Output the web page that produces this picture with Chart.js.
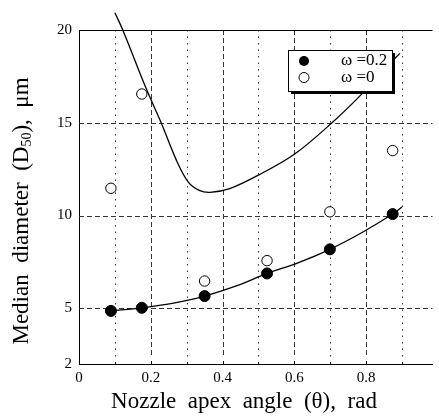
<!DOCTYPE html>
<html>
<head>
<meta charset="utf-8">
<script src="https://cdn.jsdelivr.net/npm/chart.js@4/dist/chart.umd.min.js"></script>
<style>
html,body{margin:0;padding:0;background:#fff;}
#wrap{width:439px;height:419px;}
</style>
</head>
<body>
<div id="wrap"><canvas id="c" width="439" height="419"></canvas></div>
<script>
// ---- data ----
const angles = [0.089, 0.175, 0.35, 0.524, 0.699, 0.874];
const d50Omega02 = [4.86, 5.03, 5.66, 6.88, 8.18, 10.08];
const d50Omega0 = [11.47, 16.55, 6.47, 7.57, 10.2, 13.5];
const fitLowX = [0.089, 0.175, 0.26, 0.35, 0.44, 0.524, 0.61, 0.699, 0.79, 0.874, 0.9];
const fitLowY = [4.86, 5.03, 5.27, 5.66, 6.22, 6.88, 7.45, 8.18, 9.1, 10.08, 10.46];
const fitHighX = [0.100, 0.122, 0.189, 0.229, 0.271, 0.304, 0.335, 0.365, 0.42, 0.50, 0.60, 0.705, 0.787, 0.867, 0.894];
const fitHighY = [20.93, 20.0, 16.76, 15.0, 13.0, 11.82, 11.36, 11.25, 11.45, 12.18, 13.3, 15.0, 16.53, 18.2, 18.74];
const xTicks = [0, 0.2, 0.4, 0.6, 0.8];
const yTicks = [2, 5, 10, 15, 20];
const xMajorGrid = [0.2, 0.4, 0.6, 0.8];
const xMinorGrid = [0.1, 0.3, 0.5, 0.7, 0.9];
const yGrid = [5, 10, 15];
const seriesLabels = ['\u03C9 =0.2', '\u03C9 =0'];
const xTitle = 'Nozzle  apex  angle  (\u03B8),  rad';

const pts = (xs, ys) => xs.map((x, i) => ({x: x, y: ys[i]}));
const SERIF = "'Liberation Serif', 'Times New Roman', serif";

const decorPlugin = {
  id: 'decor',
  beforeDatasetsDraw(chart) {
    const {ctx, chartArea: a, scales: {x, y}} = chart;
    ctx.save();
    ctx.strokeStyle = '#333';
    ctx.lineWidth = 1;
    ctx.setLineDash([5, 3]);
    yGrid.forEach(v => {
      const py = Math.round(y.getPixelForValue(v)) + 0.5;
      ctx.beginPath(); ctx.moveTo(a.left, py); ctx.lineTo(a.right, py); ctx.stroke();
    });
    xMajorGrid.forEach(v => {
      const px = Math.round(x.getPixelForValue(v)) + 0.5;
      ctx.beginPath(); ctx.moveTo(px, a.top); ctx.lineTo(px, a.bottom - 6); ctx.stroke();
    });
    ctx.setLineDash([1.5, 5]);
    xMinorGrid.forEach(v => {
      const px = Math.round(x.getPixelForValue(v)) + 0.5;
      ctx.beginPath(); ctx.moveTo(px, a.top); ctx.lineTo(px, a.bottom - 6); ctx.stroke();
    });
    ctx.setLineDash([]);
    ctx.strokeStyle = '#000';
    [0.1,0.2,0.3,0.4,0.5,0.6,0.7,0.8,0.9].forEach((v, i) => {
      const px = Math.round(x.getPixelForValue(v)) + 0.5;
      const len = (i % 2 === 1) ? 3 : 2;
      ctx.beginPath(); ctx.moveTo(px, a.bottom); ctx.lineTo(px, a.bottom - len); ctx.stroke();
    });
    ctx.beginPath(); ctx.moveTo(a.left, a.top + 0.5); ctx.lineTo(a.right, a.top + 0.5); ctx.stroke();
    ctx.restore();
  },
  afterDraw(chart) {
    const {ctx} = chart;
    ctx.save();
    const bx = 288, by = 50, bw = 104, bh = 41;
    ctx.fillStyle = '#000';
    ctx.fillRect(bx + 3, by + 3, bw, bh);
    ctx.fillStyle = '#fff';
    ctx.fillRect(bx, by, bw, bh);
    ctx.strokeStyle = '#000';
    ctx.lineWidth = 1;
    ctx.strokeRect(bx + 0.5, by + 0.5, bw, bh);
    ctx.beginPath(); ctx.arc(304, 61, 5, 0, Math.PI * 2); ctx.fillStyle = '#000'; ctx.fill();
    ctx.beginPath(); ctx.arc(304, 77.5, 5, 0, Math.PI * 2); ctx.fillStyle = '#fff'; ctx.fill(); ctx.stroke();
    ctx.fillStyle = '#000';
    ctx.font = '17px ' + SERIF;
    ctx.textBaseline = 'middle';
    ctx.textAlign = 'left';
    ctx.fillText(seriesLabels[0], 341, 61);
    ctx.fillText(seriesLabels[1], 341, 78);
    ctx.font = '23px ' + SERIF;
    ctx.textAlign = 'center';
    ctx.textBaseline = 'middle';
    ctx.fillText(xTitle, 244, 402);
    ctx.translate(22, 211);
    ctx.rotate(-Math.PI / 2);
    const big = '23px ' + SERIF, small = '14px ' + SERIF;
    const parts = [['Median  diameter  (D', big, 0], ['50', small, 5], ['),  \u03BCm', big, 0]];
    let total = 0;
    parts.forEach(p => { ctx.font = p[1]; total += ctx.measureText(p[0]).width; });
    let cx = -total / 2;
    ctx.textAlign = 'left';
    parts.forEach(p => {
      ctx.font = p[1];
      ctx.fillText(p[0], cx, p[2]);
      cx += ctx.measureText(p[0]).width;
    });
    ctx.restore();
  }
};

new Chart(document.getElementById('c'), {
  type: 'scatter',
  data: {
    datasets: [
      {label: 'fit 0.2', data: pts(fitLowX, fitLowY), showLine: true, pointRadius: 0,
       borderColor: '#000', borderWidth: 1.3, tension: 0.35, clip: false, order: 3},
      {label: 'fit 0', data: pts(fitHighX, fitHighY), showLine: true, pointRadius: 0,
       borderColor: '#000', borderWidth: 1.3, tension: 0.35, clip: false, order: 4},
      {label: seriesLabels[0], data: pts(angles, d50Omega02), pointRadius: 5.5,
       backgroundColor: '#000', borderColor: '#000', borderWidth: 1, order: 1},
      {label: seriesLabels[1], data: pts(angles, d50Omega0), pointRadius: 5.2,
       backgroundColor: '#fff', borderColor: '#000', borderWidth: 1, order: 2}
    ]
  },
  options: {
    responsive: false,
    animation: false,
    layout: {padding: {top: 30, left: 0, right: 0, bottom: 0}},
    plugins: {legend: {display: false}, tooltip: {enabled: false}},
    scales: {
      x: {
        type: 'linear', min: 0, max: 0.985,
        afterBuildTicks: s => { s.ticks = xTicks.map(v => ({value: v})); },
        afterFit: s => { s.height = 55; },
        grid: {display: false, drawTicks: false},
        border: {display: true, color: '#000', width: 1},
        ticks: {color: '#000', font: {family: SERIF, size: 15}, padding: 5,
                callback: v => (v === 0 ? '0' : v.toFixed(1))}
      },
      y: {
        type: 'linear', min: 2, max: 20,
        afterBuildTicks: s => { s.ticks = yTicks.map(v => ({value: v})); },
        afterFit: s => { s.width = 79; },
        grid: {display: false, drawTicks: false},
        border: {display: true, color: '#000', width: 1},
        ticks: {color: '#000', font: {family: SERIF, size: 15}, padding: 7,
                callback: v => String(v)}
      }
    }
  },
  plugins: [decorPlugin]
});
</script>
</body>
</html>
